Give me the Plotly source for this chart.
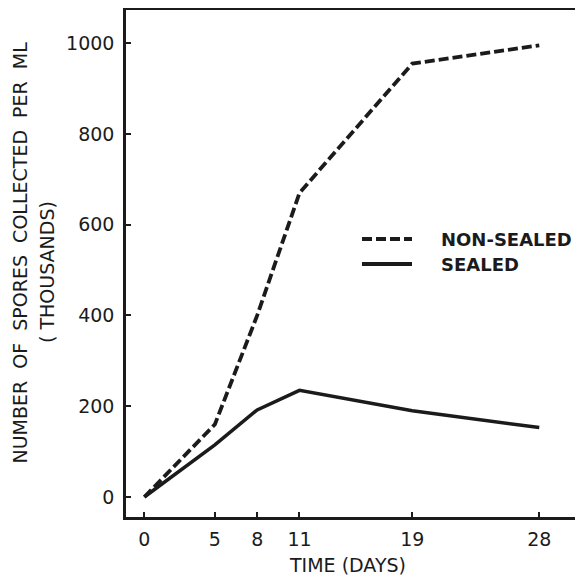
import plotly.graph_objects as go

days = [0, 5, 8, 11, 19, 28]
non_sealed = [0, 160, 400, 670, 955, 995]
sealed = [0, 115, 192, 235, 190, 153]
x_ticks = [0, 5, 8, 11, 19, 28]
y_ticks = [0, 200, 400, 600, 800, 1000]
series_names = ["NON-SEALED", "SEALED"]

OFF = 8  # page body margin
W, H = 575, 570
ML, MR, MT, MB = 126 - OFF, 0, 10 - OFF, 61
PW = W - ML - MR
PH = H - MT - MB

def px_x(p):
    return (p - OFF - ML) / PW

def px_y(p):
    return 1 - (p - OFF - MT) / PH

INK = "#1b1b1b"
FONT = "DejaVu Sans"
DASH = "10px,4px"
SP = "\u00a0"

fig = go.Figure()
fig.add_trace(go.Scatter(x=days, y=non_sealed, mode="lines", name=series_names[0],
                         line=dict(color=INK, width=3.8, dash=DASH), showlegend=False))
fig.add_trace(go.Scatter(x=days, y=sealed, mode="lines", name=series_names[1],
                         line=dict(color=INK, width=3.5), showlegend=False))

# legend (manual)
leg = [(239, DASH), (264, "solid")]
for (yy, d), name in zip(leg, series_names):
    fig.add_shape(type="line", xref="paper", yref="paper",
                  x0=px_x(362), x1=px_x(412), y0=px_y(yy), y1=px_y(yy),
                  line=dict(color=INK, width=3.8, dash=d))
    fig.add_annotation(text=name, xref="paper", yref="paper", x=px_x(439), y=px_y(yy),
                       xanchor="left", yanchor="middle", showarrow=False,
                       font=dict(family=FONT, size=18, color=INK, weight="bold"))

# y title (two lines)
title1 = (" " + SP).join(["NUMBER", "OF", "SPORES", "COLLECTED", "PER", "ML"])
fig.add_annotation(text=title1, textangle=-90,
                   xref="paper", yref="paper", x=px_x(19.5), y=px_y(253),
                   xanchor="center", yanchor="middle", showarrow=False,
                   font=dict(family=FONT, size=19, color=INK))
fig.add_annotation(text="(" + SP + "THOUSANDS)", textangle=-90,
                   xref="paper", yref="paper", x=px_x(47), y=px_y(272),
                   xanchor="center", yanchor="middle", showarrow=False,
                   font=dict(family=FONT, size=19, color=INK))
# x title
fig.add_annotation(text="TIME (DAYS)", xref="paper", yref="paper",
                   x=px_x(347), y=px_y(565), xanchor="center", yanchor="middle",
                   showarrow=False, font=dict(family=FONT, size=19, color=INK))

fig.update_xaxes(range=[-1.3, 31.1], tickvals=x_ticks, ticktext=[str(v) for v in x_ticks],
                 showgrid=False, zeroline=False, showline=True, linecolor=INK, linewidth=2.5,
                 mirror=True, ticks="inside", ticklen=5, tickwidth=2, tickcolor=INK,
                 ticklabelstandoff=3,
                 tickfont=dict(family=FONT, size=19, color=INK))
fig.update_yaxes(range=[-44, 1073], tickvals=y_ticks, ticktext=[str(v) for v in y_ticks],
                 showgrid=False, zeroline=False, showline=True, linecolor=INK, linewidth=2.5,
                 ticks="inside", ticklen=5, tickwidth=2, tickcolor=INK,
                 ticklabelstandoff=5,
                 tickfont=dict(family=FONT, size=19, color=INK))

fig.update_layout(width=W, height=H, margin=dict(l=ML, r=MR, t=MT, b=MB),
                  paper_bgcolor="white", plot_bgcolor="white")

fig.write_html("out.html")
